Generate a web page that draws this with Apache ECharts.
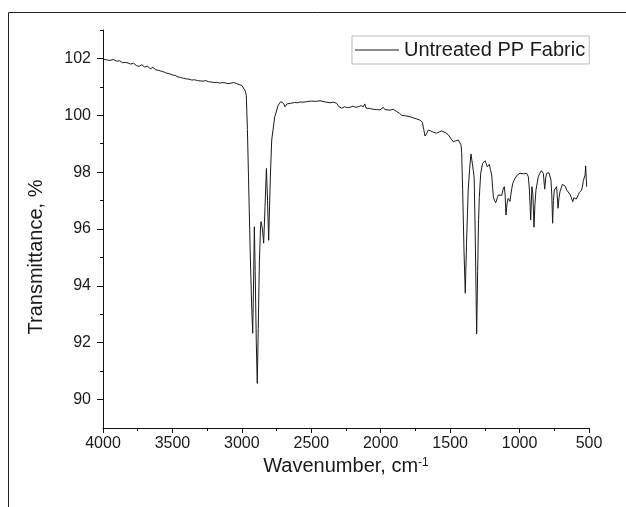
<!DOCTYPE html>
<html>
<head>
<meta charset="utf-8">
<script src="https://cdn.jsdelivr.net/npm/echarts@6/dist/echarts.min.js"></script>
<style>
  html, body { margin: 0; padding: 0; background: #fff; }
  #chart { width: 626px; height: 507px; }
</style>
</head>
<body>
<div id="chart"></div>
<script>
// FTIR spectrum
const wavenumber = [
  4000, 3975, 3950, 3925, 3900, 3880, 3860, 3850, 3840, 3820, 3800, 3780, 3760, 3740, 3720, 3700,
  3680, 3660, 3640, 3620, 3600, 3580, 3560, 3540, 3520, 3500, 3480, 3460, 3440, 3420, 3400, 3380,
  3360, 3340, 3320, 3300, 3280, 3260, 3240, 3220, 3200, 3180, 3160, 3140, 3120, 3100, 3080, 3060,
  3040, 3020, 3000, 2990, 2975, 2968, 2960, 2952, 2940, 2930, 2922, 2916, 2910, 2904, 2896, 2889,
  2882, 2874, 2866, 2862, 2852, 2843, 2833, 2823, 2815, 2807, 2795, 2785, 2763, 2738, 2720, 2700,
  2689, 2676, 2666, 2650, 2620, 2600, 2580, 2560, 2533, 2500, 2470, 2437, 2400, 2365, 2340, 2317,
  2300, 2281, 2260, 2240, 2221, 2200, 2180, 2161, 2140, 2125, 2115, 2105, 2080, 2053, 2030, 2005,
  1981, 1970, 1957, 1935, 1909, 1895, 1885, 1865, 1849, 1820, 1789, 1760, 1740, 1717, 1700, 1690,
  1681, 1670, 1657, 1640, 1620, 1597, 1575, 1560, 1549, 1530, 1513, 1501, 1490, 1477, 1460, 1441,
  1430, 1422, 1417, 1410, 1400, 1391, 1382, 1370, 1360, 1350, 1345, 1340, 1333, 1327, 1320, 1309,
  1302, 1296, 1290, 1280, 1266, 1249, 1240, 1233, 1225, 1218, 1210, 1201, 1189, 1180, 1172, 1160,
  1153, 1140, 1129, 1118, 1110, 1104, 1098, 1090, 1082, 1069, 1060, 1050, 1033, 1016, 997, 985,
  973, 960, 949, 937, 929, 920, 911, 904, 896, 889, 882, 865, 855, 843, 835, 829,
  819, 812, 805, 788, 774, 768, 762, 756, 750, 733, 723, 716, 709, 692, 680, 670,
  661, 650, 637, 627, 617, 609, 601, 592, 584, 577, 570, 560, 553, 545, 541, 534,
  528, 524, 520, 517
];
const transmittance = [
  101.98, 101.95, 101.93, 101.96, 101.9, 101.92, 101.85, 101.78, 101.86, 101.84, 101.8, 101.83, 101.75, 101.72, 101.78, 101.7,
  101.73, 101.64, 101.68, 101.6, 101.58, 101.55, 101.52, 101.48, 101.46, 101.42, 101.4, 101.35, 101.33, 101.3, 101.28, 101.27,
  101.24, 101.25, 101.22, 101.21, 101.2, 101.22, 101.18, 101.17, 101.15, 101.16, 101.13, 101.15, 101.14, 101.11, 101.13, 101.15,
  101.12, 101.08, 101.05, 100.98, 100.85, 100.7, 99.5, 97.8, 95.2, 93.4, 92.33, 94.0, 96.08, 94.5, 92.0, 90.57,
  92.5, 94.8, 96.0, 96.26, 96.0, 95.5, 96.8, 98.13, 97.0, 95.6, 97.8, 99.13, 99.95, 100.36, 100.48, 100.42,
  100.3, 100.4, 100.44, 100.42, 100.45, 100.44, 100.47, 100.46, 100.48, 100.5, 100.49, 100.51, 100.47, 100.44, 100.46, 100.42,
  100.3, 100.25, 100.3, 100.27, 100.28, 100.32, 100.28, 100.3, 100.34, 100.3, 100.4, 100.25, 100.24, 100.21, 100.2, 100.19,
  100.28, 100.2, 100.13, 100.18, 100.21, 100.15, 100.13, 100.07, 100.0, 99.98, 99.95, 99.9, 99.87, 99.83, 99.75, 99.5,
  99.27, 99.35, 99.48, 99.45, 99.4, 99.37, 99.42, 99.45, 99.46, 99.38, 99.31, 99.27, 99.15, 99.07, 99.1, 99.13,
  99.1, 98.96, 98.7, 97.4, 95.2, 93.74, 95.5, 97.37, 98.1, 98.64, 98.66, 98.3, 98.05, 97.8, 96.0, 92.31,
  94.5, 96.2, 97.1, 97.96, 98.31, 98.4, 98.3, 98.19, 98.24, 98.27, 98.1, 97.9, 97.14, 97.0, 96.92, 97.1,
  97.2, 97.16, 97.18, 97.4, 97.49, 97.2, 96.49, 96.9, 97.08, 96.97, 97.3, 97.6, 97.78, 97.9, 97.96, 97.93,
  97.94, 97.97, 97.96, 97.84, 97.37, 96.32, 97.49, 97.2, 96.06, 96.9, 97.37, 97.84, 97.95, 98.05, 98.0, 97.96,
  97.4, 97.8, 97.96, 97.98, 97.72, 97.2, 96.2, 97.0, 97.37, 97.49, 96.73, 97.1, 97.31, 97.57, 97.63, 97.5,
  97.37, 97.3, 97.22, 97.1, 96.96, 97.1, 97.14, 97.05, 97.08, 97.2, 97.28, 97.32, 97.37, 97.55, 97.7, 97.63,
  97.9, 98.22, 97.8, 97.49
];
const seriesName = 'Untreated PP Fabric';
const yMajorTicks = [90, 92, 94, 96, 98, 100, 102];
const yMinorTicks = [91, 93, 95, 97, 99, 101, 103];

const textColor = '#1a1a1a';
const fontFamily = '"Liberation Sans", Arial, sans-serif';

const chart = echarts.init(document.getElementById('chart'));

const option = {
  animation: false,
  backgroundColor: '#fff',
  textStyle: { fontFamily: fontFamily, color: textColor },
  grid: { left: 103, top: 30, width: 486, height: 398 },
  legend: {
    left: 352,
    top: 36,
    padding: [4, 4, 4, 3],
    borderColor: '#bdbdbd',
    borderWidth: 1,
    backgroundColor: '#fff',
    itemWidth: 44,
    itemHeight: 14,
    itemGap: 0,
    textStyle: { fontSize: 20, color: textColor, fontFamily: fontFamily },
    data: [{ name: seriesName, icon: 'path://M0,0 L44,0 L44,1 L0,1 Z' }]
  },
  xAxis: {
    type: 'value',
    inverse: true,
    min: 500,
    max: 4000,
    interval: 500,
    name: 'Wavenumber, cm{sup|-1}',
    nameLocation: 'middle',
    nameGap: 22,
    nameTextStyle: {
      fontSize: 20,
      color: textColor,
      rich: { sup: { fontSize: 12, verticalAlign: 'top', padding: [0, 0, 8, 0], color: textColor } }
    },
    axisLine: { onZero: false, lineStyle: { color: '#111', width: 1 } },
    axisTick: { show: true, length: 5, inside: false, lineStyle: { color: '#111' } },
    minorTick: { show: true, splitNumber: 2, length: 3, lineStyle: { color: '#111' } },
    axisLabel: { fontSize: 16, color: textColor, margin: 8, formatter: v => String(v) },
    splitLine: { show: false }
  },
  yAxis: [
    {
      type: 'value',
      min: 89,
      max: 103,
      name: 'Transmittance, %',
      nameLocation: 'middle',
      nameRotate: 90,
      nameGap: 57,
      nameTextStyle: { fontSize: 20, color: textColor, padding: [0, 56, 0, 0] },
      axisLine: { show: true, onZero: false, lineStyle: { color: '#111', width: 1 } },
      axisTick: { show: true, length: 6, customValues: yMajorTicks, lineStyle: { color: '#111' } },
      axisLabel: { fontSize: 16, color: textColor, margin: 12, customValues: yMajorTicks },
      splitLine: { show: false }
    },
    {
      type: 'value',
      min: 89,
      max: 103,
      position: 'left',
      axisLine: { show: false },
      axisTick: { show: true, length: 3, customValues: yMinorTicks, lineStyle: { color: '#111' } },
      axisLabel: { show: false },
      splitLine: { show: false }
    }
  ],
  graphic: [
    { type: 'line', silent: true, shape: { x1: 8.5, y1: 12.5, x2: 626, y2: 12.5 }, style: { stroke: '#222', lineWidth: 1 } },
    { type: 'line', silent: true, shape: { x1: 8.5, y1: 12.5, x2: 8.5, y2: 507 }, style: { stroke: '#222', lineWidth: 1 } }
  ],
  series: [
    {
      name: seriesName,
      type: 'line',
      yAxisIndex: 0,
      symbol: 'none',
      lineStyle: { color: '#1a1a1a', width: 1 },
      itemStyle: { color: '#1a1a1a' },
      data: wavenumber.map((w, i) => [w, transmittance[i]])
    }
  ]
};

chart.setOption(option);
</script>
</body>
</html>
